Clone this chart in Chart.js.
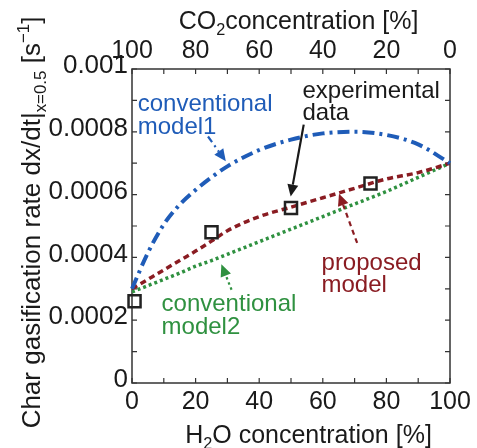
<!DOCTYPE html>
<html>
<head>
<meta charset="utf-8">
<script src="https://cdn.jsdelivr.net/npm/chart.js@4.4.1/dist/chart.umd.min.js"></script>
<style>
  html, body { margin: 0; padding: 0; background: #fff; }
</style>
</head>
<body>
<canvas id="chart" width="477" height="448"></canvas>
<script>
// H2O concentration [%] where the model curves are read
const modelX = [0, 5, 10, 15, 20, 25, 30, 40, 50, 60, 70, 80, 90, 100];
const model1 = [0.0003, 0.000415, 0.000505, 0.000568, 0.000615, 0.000655, 0.00069, 0.000742, 0.000775, 0.000795, 0.0008, 0.00079, 0.00076, 0.0007];
const proposed = [0.0003, 0.00033, 0.00036, 0.00039, 0.00042, 0.000452, 0.000485, 0.00053, 0.00056, 0.00059, 0.00062, 0.00065, 0.00067, 0.0007];
const model2 = [0.00029, 0.00031, 0.00033, 0.00035, 0.000372, 0.00039, 0.00041, 0.00045, 0.00049, 0.00053, 0.00057, 0.00061, 0.000655, 0.0007];

// experimental data (squares)
const expX = [0.8, 25, 50, 75];
const expY = [0.00026, 0.00048, 0.000557, 0.000635];

const FONT = "'Liberation Sans', Arial, sans-serif";
const BLUE = "#1f5cb8";
const RED = "#8a1c22";
const GREEN = "#2f9140";

const pts = (xs, ys) => xs.map((x, i) => ({ x: x, y: ys[i] }));

// text labels and arrows, placed in data units
const notes = [
  { lines: ["conventional", "model1"], x: 1.8, y: 0.000865, color: BLUE },
  { lines: ["experimental", "data"], x: 53.6, y: 0.000908, color: "#1a1a1a" },
  { lines: ["proposed", "model"], x: 59.6, y: 0.000361, color: RED },
  { lines: ["conventional", "model2"], x: 9.3, y: 0.000228, color: GREEN }
];
const arrows = [
  { from: [23.9, 0.000785], to: [29.5, 0.000706], color: BLUE, dash: [7, 4, 2, 4] },
  { from: [54.0, 0.000823], to: [49.9, 0.000594], color: "#1a1a1a", dash: [] },
  { from: [70.8, 0.000446], to: [65.1, 0.000603], color: RED, dash: [5, 4] },
  { from: [31.3, 0.000297], to: [28.1, 0.000378], color: GREEN, dash: [2.5, 3] }
];

function drawRich(ctx, parts, cx, base, size) {
  let w = 0;
  parts.forEach(([t, m]) => {
    ctx.font = (m ? size * 0.65 : size) + "px " + FONT;
    w += ctx.measureText(t).width;
  });
  let x = cx - w / 2;
  ctx.textAlign = "left";
  ctx.textBaseline = "alphabetic";
  parts.forEach(([t, m]) => {
    const s = m ? size * 0.65 : size;
    ctx.font = s + "px " + FONT;
    const dy = m === -1 ? size * 0.22 : (m === 1 ? -size * 0.42 : 0);
    ctx.fillText(t, x, base + dy);
    x += ctx.measureText(t).width;
  });
}

const decor = {
  id: "decor",
  beforeDatasetsDraw(chart) {
    const { ctx, chartArea: a, scales } = chart;
    ctx.save();
    ctx.strokeStyle = "#333";
    ctx.lineWidth = 1.5;
    ctx.strokeRect(a.left, a.top, a.right - a.left, a.bottom - a.top);
    // inward ticks on all four sides
    ctx.lineWidth = 1.2;
    ctx.beginPath();
    scales.x.ticks.forEach(t => {
      const p = scales.x.getPixelForValue(t.value);
      ctx.moveTo(p, a.bottom); ctx.lineTo(p, a.bottom - 5);
    });
    scales.x2.ticks.forEach(t => {
      const p = scales.x2.getPixelForValue(t.value);
      ctx.moveTo(p, a.top); ctx.lineTo(p, a.top + 5);
    });
    scales.y.ticks.forEach(t => {
      const p = scales.y.getPixelForValue(t.value);
      ctx.moveTo(a.left, p); ctx.lineTo(a.left + 5, p);
      ctx.moveTo(a.right, p); ctx.lineTo(a.right - 5, p);
    });
    ctx.stroke();
    ctx.restore();
  },
  afterDatasetsDraw(chart) {
    const { ctx, scales } = chart;
    const sx = scales.x, sy = scales.y;
    ctx.save();
    // arrows
    arrows.forEach(ar => {
      const x0 = sx.getPixelForValue(ar.from[0]), y0 = sy.getPixelForValue(ar.from[1]);
      const x1 = sx.getPixelForValue(ar.to[0]), y1 = sy.getPixelForValue(ar.to[1]);
      const ang = Math.atan2(y1 - y0, x1 - x0);
      const hl = 12, hw = 5.5;
      const bx = x1 - hl * Math.cos(ang), by = y1 - hl * Math.sin(ang);
      ctx.strokeStyle = ar.color;
      ctx.fillStyle = ar.color;
      ctx.lineWidth = 2.2;
      ctx.setLineDash(ar.dash);
      ctx.beginPath();
      ctx.moveTo(x0, y0);
      ctx.lineTo(bx, by);
      ctx.stroke();
      ctx.setLineDash([]);
      ctx.beginPath();
      ctx.moveTo(x1, y1);
      ctx.lineTo(bx + hw * Math.sin(ang), by - hw * Math.cos(ang));
      ctx.lineTo(bx - hw * Math.sin(ang), by + hw * Math.cos(ang));
      ctx.closePath();
      ctx.fill();
    });
    // labels
    ctx.font = "24px " + FONT;
    ctx.textAlign = "left";
    ctx.textBaseline = "alphabetic";
    notes.forEach(n => {
      ctx.fillStyle = n.color;
      const px = sx.getPixelForValue(n.x), py = sy.getPixelForValue(n.y);
      n.lines.forEach((line, i) => ctx.fillText(line, px, py + i * 22.5));
    });
    ctx.restore();
  },
  afterDraw(chart) {
    const ctx = chart.ctx;
    ctx.save();
    ctx.fillStyle = "#1a1a1a";
    drawRich(ctx, [["H", 0], ["2", -1], ["O concentration [%]", 0]], 308.5, 443, 25);
    drawRich(ctx, [["CO", 0], ["2", -1], ["concentration [%]", 0]], 298.5, 29, 25);
    ctx.translate(40, 222.5);
    ctx.rotate(-Math.PI / 2);
    drawRich(ctx, [["Char gasification rate dx/dt|", 0], ["x=0.5", -1], [" [s", 0], ["\u22121", 1], ["]", 0]], 0, 0, 26);
    ctx.restore();
  }
};

const tickFont = { family: FONT, size: 25 };
const noGrid = { display: false, drawTicks: false };

new Chart(document.getElementById("chart"), {
  type: "line",
  data: {
    datasets: [
      {
        label: "experimental data",
        data: pts(expX, expY),
        showLine: false,
        pointStyle: "rect",
        pointRadius: 8.5,
        pointBorderWidth: 2.5,
        pointBorderColor: "#222",
        pointBackgroundColor: "rgba(0,0,0,0)",
        clip: false
      },
      {
        label: "conventional model1",
        data: pts(modelX, model1),
        borderColor: BLUE,
        borderWidth: 4,
        borderDash: [12, 5, 3, 5],
        cubicInterpolationMode: "monotone",
        pointRadius: 0,
        clip: false
      },
      {
        label: "proposed model",
        data: pts(modelX, proposed),
        borderColor: RED,
        borderWidth: 3.5,
        borderDash: [6, 4],
        cubicInterpolationMode: "monotone",
        pointRadius: 0
      },
      {
        label: "conventional model2",
        data: pts(modelX, model2),
        borderColor: GREEN,
        borderWidth: 3.5,
        borderDash: [3, 3],
        cubicInterpolationMode: "monotone",
        pointRadius: 0
      }
    ]
  },
  options: {
    responsive: false,
    animation: false,
    layout: { padding: { left: 0, right: 27, top: 0, bottom: 0 } },
    plugins: { legend: { display: false }, tooltip: { enabled: false } },
    scales: {
      x: {
        type: "linear", position: "bottom", min: 0, max: 100,
        grid: noGrid, border: { display: false },
        ticks: { stepSize: 10, autoSkip: false, maxRotation: 0, font: tickFont, color: "#1a1a1a", padding: 4,
                 callback: v => (v % 20 === 0 ? String(v) : "") },
        afterFit: s => { s.height = 65; }
      },
      x2: {
        type: "linear", position: "top", reverse: true, min: 0, max: 100,
        grid: noGrid, border: { display: false },
        ticks: { stepSize: 10, autoSkip: false, maxRotation: 0, font: tickFont, color: "#1a1a1a", padding: 3,
                 callback: v => (v % 20 === 0 ? String(v) : "") },
        afterFit: s => { s.height = 69; }
      },
      y: {
        min: 0, max: 0.001,
        grid: noGrid, border: { display: false },
        ticks: {
          stepSize: 0.0001, autoSkip: false, font: { family: FONT, size: 26 }, color: "#1a1a1a", padding: 4, labelOffset: -3,
          callback: v => {
            const k = Math.round(v * 10000);
            if (k % 2) return "";
            if (k === 0) return "0";
            if (k === 10) return "0.001";
            return "0.000" + k;
          }
        },
        afterFit: s => { s.width = 132; }
      }
    }
  },
  plugins: [decor]
});
</script>
</body>
</html>
